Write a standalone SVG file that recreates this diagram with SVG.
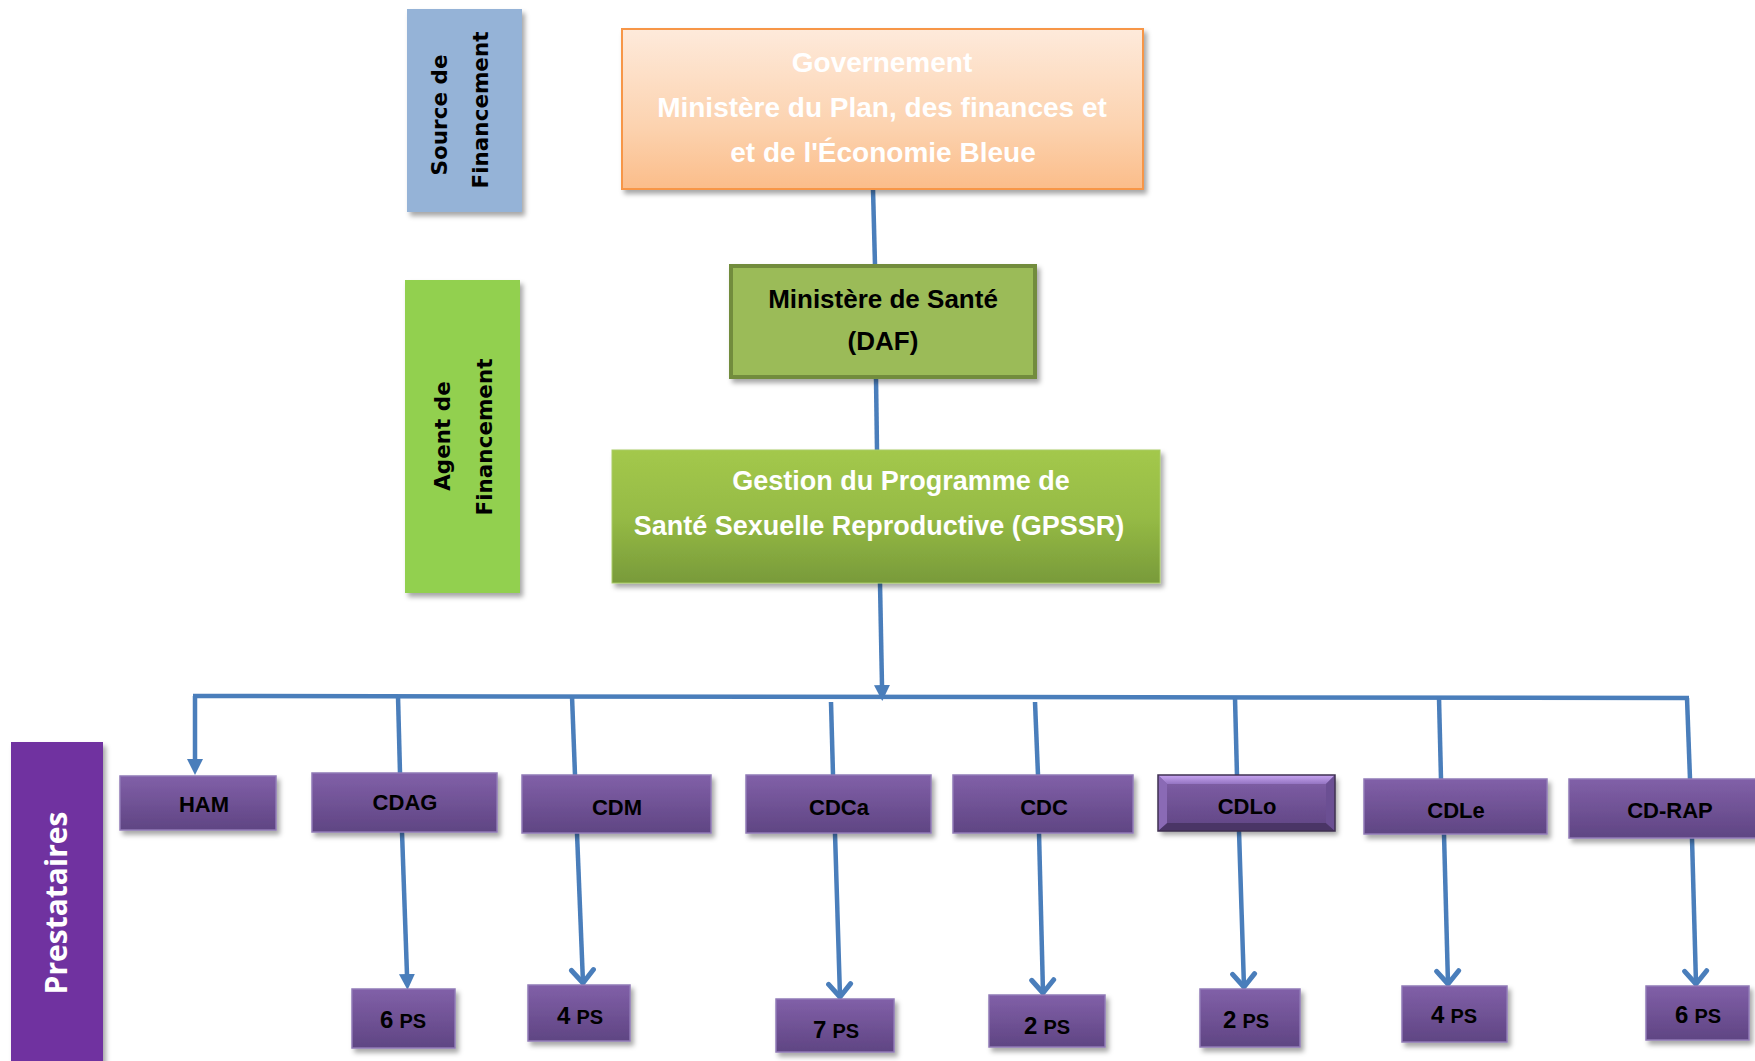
<svg xmlns="http://www.w3.org/2000/svg" width="1755" height="1061" viewBox="0 0 1755 1061">
<defs>
<linearGradient id="gOrange" x1="0" y1="0" x2="0" y2="1"><stop offset="0" stop-color="#FEEADB"/><stop offset="0.6" stop-color="#FCD3B0"/><stop offset="1" stop-color="#FBBD8A"/></linearGradient>
<linearGradient id="gGreen" x1="0" y1="0" x2="0" y2="1"><stop offset="0" stop-color="#A3C84C"/><stop offset="0.5" stop-color="#96BB45"/><stop offset="1" stop-color="#789A3A"/></linearGradient>
<linearGradient id="gPurple" x1="0" y1="0" x2="0" y2="1"><stop offset="0" stop-color="#8160A8"/><stop offset="1" stop-color="#5F4583"/></linearGradient>
<linearGradient id="gBevel" x1="0" y1="0" x2="0" y2="1"><stop offset="0" stop-color="#C9A6F2"/><stop offset="1" stop-color="#9474C2"/></linearGradient>
<filter id="sh" x="-10%" y="-10%" width="130%" height="140%"><feDropShadow dx="3" dy="4" stdDeviation="2.5" flood-color="#000" flood-opacity="0.35"/></filter>
<marker id="tri" viewBox="0 0 16 16" refX="1" refY="8" markerWidth="16" markerHeight="16" markerUnits="userSpaceOnUse" orient="auto"><path d="M0,0 L16,8 L0,16 z" fill="#4A7EBB"/></marker>
<marker id="vee" viewBox="0 0 20 28" refX="16" refY="14" markerWidth="20" markerHeight="28" markerUnits="userSpaceOnUse" orient="auto"><path d="M3,3 L16,14 L3,25" fill="none" stroke="#4A7EBB" stroke-width="5" stroke-linecap="round" stroke-linejoin="round"/></marker>
<style>
.side{font-family:"DejaVu Sans",Verdana,sans-serif;font-weight:bold;font-size:21.5px;fill:#000;text-anchor:middle;}
.pres{font-family:"Open Sans","DejaVu Sans",sans-serif;font-weight:bold;font-size:30px;fill:#FFFFFF;text-anchor:middle;}
.main{font-family:"Liberation Sans",Arial,sans-serif;font-weight:bold;text-anchor:middle;}
.lbl{font-family:"Liberation Sans",Arial,sans-serif;font-weight:bold;font-size:22px;fill:#000;text-anchor:middle;}
.pbox{fill:url(#gPurple);stroke:#907AB6;stroke-width:1.5;filter:url(#sh);}
.conn{fill:none;stroke:#4A7EBB;stroke-width:4.5;}
.big{font-size:24px;}
.sm{font-size:20px;}
</style>
</defs>
<rect width="1755" height="1061" fill="#FFFFFF"/>

<g id="source-financement">
<rect x="407" y="9" width="115" height="203" fill="#95B3D7" filter="url(#sh)"/>
<text class="side" transform="translate(447,115) rotate(-90)">Source de</text>
<text class="side" transform="translate(488,110) rotate(-90)">Financement</text>
</g>

<g id="agent-financement">
<rect x="405" y="280" width="115" height="313" fill="#92D050" filter="url(#sh)"/>
<text class="side" transform="translate(450,436) rotate(-90)">Agent de</text>
<text class="side" transform="translate(492,437) rotate(-90)">Financement</text>
</g>

<g id="prestataires">
<rect x="11" y="742" width="92" height="330" fill="#7030A0" filter="url(#sh)"/>
<text class="pres" transform="translate(67,903) rotate(-90)">Prestataires</text>
</g>

<g id="connectors">
<line class="conn" x1="873" y1="189" x2="875" y2="265"/>
<line class="conn" x1="876" y1="378" x2="877" y2="450"/>
<line class="conn" x1="880" y1="583" x2="882" y2="686" marker-end="url(#tri)"/>
<line class="conn" x1="193" y1="696" x2="1689" y2="698"/>
<line class="conn" x1="195" y1="696" x2="195" y2="760" marker-end="url(#tri)"/>
<line class="conn" x1="398" y1="696" x2="400" y2="773"/>
<line class="conn" x1="572" y1="696" x2="575" y2="775"/>
<line class="conn" x1="831" y1="702" x2="833" y2="775"/>
<line class="conn" x1="1035" y1="702" x2="1038" y2="775"/>
<line class="conn" x1="1235" y1="698" x2="1237" y2="776"/>
<line class="conn" x1="1439" y1="698" x2="1441" y2="779"/>
<line class="conn" x1="1687" y1="698" x2="1690" y2="779"/>
<line class="conn" x1="402" y1="832" x2="407" y2="975" marker-end="url(#tri)"/>
<line class="conn" x1="577" y1="833" x2="583" y2="983" marker-end="url(#vee)"/>
<line class="conn" x1="835" y1="833" x2="840" y2="997" marker-end="url(#vee)"/>
<line class="conn" x1="1039" y1="833" x2="1043" y2="993" marker-end="url(#vee)"/>
<line class="conn" x1="1239" y1="831" x2="1244" y2="987" marker-end="url(#vee)"/>
<line class="conn" x1="1444" y1="834" x2="1448" y2="984" marker-end="url(#vee)"/>
<line class="conn" x1="1692" y1="838" x2="1696" y2="984" marker-end="url(#vee)"/>
</g>

<g id="gouvernement">
<rect x="622" y="29" width="521" height="160" fill="url(#gOrange)" stroke="#F79646" stroke-width="2" filter="url(#sh)"/>
<text class="main" font-size="28" fill="#FFFFFF" x="882" y="72">Governement</text>
<text class="main" font-size="28" fill="#FFFFFF" x="882" y="117">Ministère du Plan, des finances et</text>
<text class="main" font-size="28" fill="#FFFFFF" x="883" y="162">et de l'Économie Bleue</text>
</g>

<g id="ministere-sante">
<rect x="731" y="266" width="304" height="111" fill="#9BBB59" stroke="#728C3E" stroke-width="4" filter="url(#sh)"/>
<text class="main" font-size="26" fill="#000" x="883" y="308">Ministère de Santé</text>
<text class="main" font-size="26" fill="#000" x="883" y="350">(DAF)</text>
</g>

<g id="gpssr">
<rect x="612" y="450" width="548" height="133" fill="url(#gGreen)" stroke="#A9CB66" stroke-width="1" filter="url(#sh)"/>
<text class="main" font-size="27" fill="#FFFFFF" x="901" y="490">Gestion du Programme de</text>
<text class="main" font-size="27" fill="#FFFFFF" x="879" y="535">Santé Sexuelle Reproductive (GPSSR)</text>
</g>

<g id="ham"><rect class="pbox" x="120" y="776" width="156" height="54"/><text class="lbl" x="204" y="812">HAM</text></g>
<g id="cdag"><rect class="pbox" x="312" y="773" width="185" height="59"/><text class="lbl" x="405" y="810">CDAG</text></g>
<g id="cdm"><rect class="pbox" x="522" y="775" width="189" height="58"/><text class="lbl" x="617" y="815">CDM</text></g>
<g id="cdca"><rect class="pbox" x="746" y="775" width="185" height="58"/><text class="lbl" x="839" y="815">CDCa</text></g>
<g id="cdc"><rect class="pbox" x="953" y="775" width="180" height="58"/><text class="lbl" x="1044" y="815">CDC</text></g>
<g id="cdlo">
<rect x="1158" y="775" width="177" height="56" fill="url(#gPurple)" filter="url(#sh)"/>
<path d="M1158,775 L1335,775 L1326,784 L1167,784 z" fill="url(#gBevel)"/>
<path d="M1158,831 L1335,831 L1326,823 L1167,823 z" fill="#4A3566"/>
<path d="M1158,775 L1167,784 L1167,823 L1158,831 z" fill="#8A6AB5"/>
<path d="M1335,775 L1326,784 L1326,823 L1335,831 z" fill="#6B4F93"/>
<rect x="1158" y="775" width="177" height="56" fill="none" stroke="#3F3151" stroke-width="1.5"/>
<text class="lbl" x="1247" y="814">CDLo</text>
</g>
<g id="cdle"><rect class="pbox" x="1364" y="779" width="183" height="55"/><text class="lbl" x="1456" y="818">CDLe</text></g>
<g id="cd-rap"><rect class="pbox" x="1569" y="779" width="195" height="59"/><text class="lbl" x="1670" y="818">CD-RAP</text></g>

<g id="ps-cdag"><rect class="pbox" x="352" y="989" width="103" height="59"/><text class="lbl" x="403" y="1028"><tspan class="big">6</tspan> <tspan class="sm">PS</tspan></text></g>
<g id="ps-cdm"><rect class="pbox" x="528" y="985" width="102" height="56"/><text class="lbl" x="580" y="1024"><tspan class="big">4</tspan> <tspan class="sm">PS</tspan></text></g>
<g id="ps-cdca"><rect class="pbox" x="776" y="999" width="118" height="53"/><text class="lbl" x="836" y="1038"><tspan class="big">7</tspan> <tspan class="sm">PS</tspan></text></g>
<g id="ps-cdc"><rect class="pbox" x="989" y="995" width="116" height="52"/><text class="lbl" x="1047" y="1034"><tspan class="big">2</tspan> <tspan class="sm">PS</tspan></text></g>
<g id="ps-cdlo"><rect class="pbox" x="1200" y="989" width="100" height="58"/><text class="lbl" x="1246" y="1028"><tspan class="big">2</tspan> <tspan class="sm">PS</tspan></text></g>
<g id="ps-cdle"><rect class="pbox" x="1402" y="986" width="105" height="56"/><text class="lbl" x="1454" y="1023"><tspan class="big">4</tspan> <tspan class="sm">PS</tspan></text></g>
<g id="ps-cdrap"><rect class="pbox" x="1646" y="986" width="103" height="54"/><text class="lbl" x="1698" y="1023"><tspan class="big">6</tspan> <tspan class="sm">PS</tspan></text></g>
</svg>
